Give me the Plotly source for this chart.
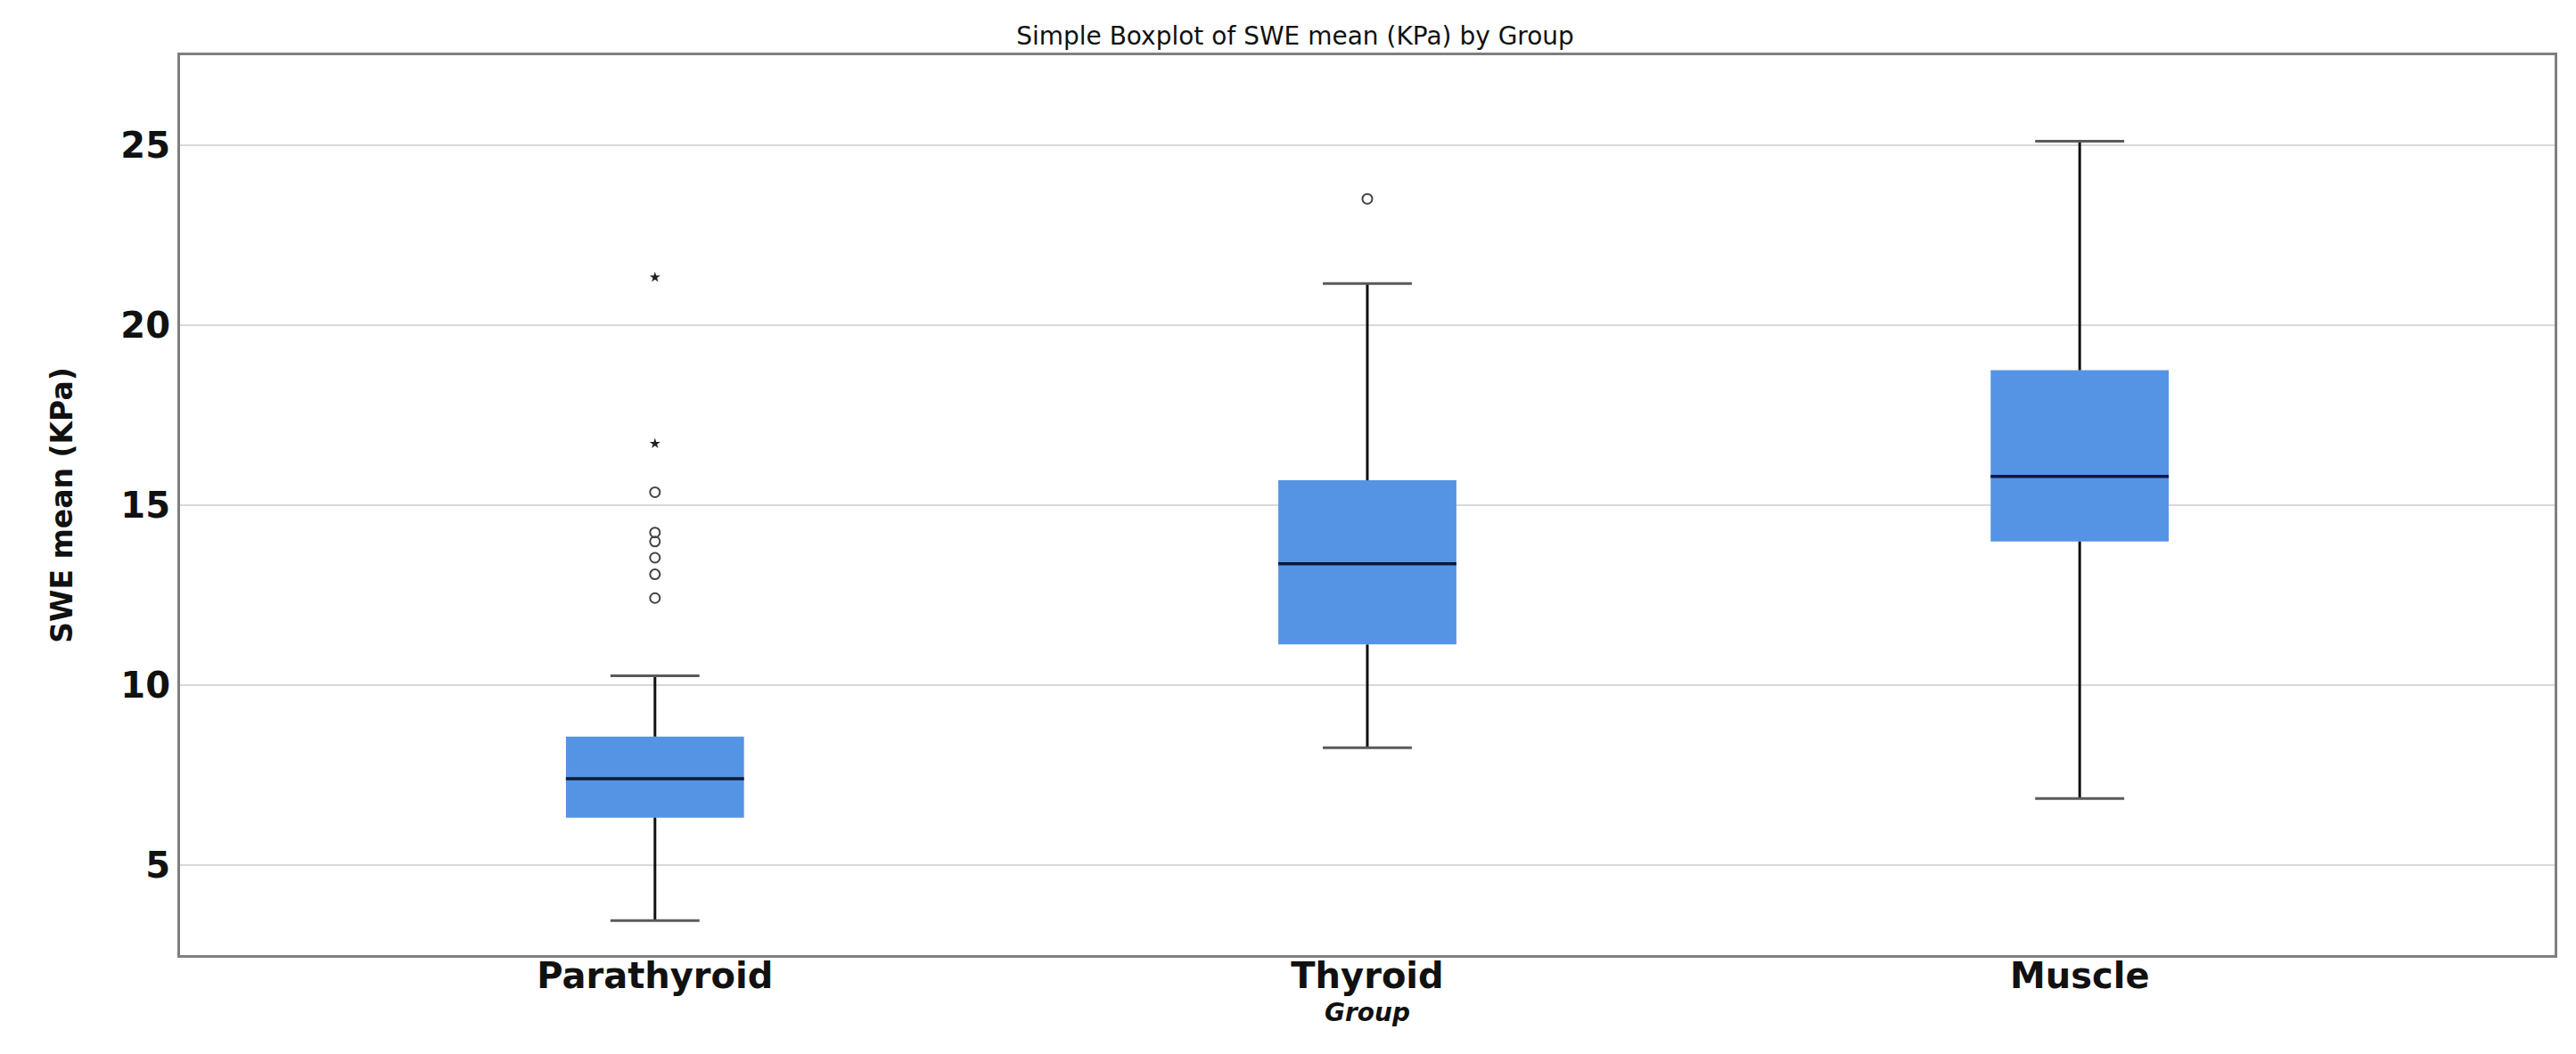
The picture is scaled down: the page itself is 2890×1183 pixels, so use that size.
import plotly.graph_objects as go

# ---------------- data ----------------
groups = ["Parathyroid", "Thyroid", "Muscle"]
positions = [0, 1, 2]
lower_whisker = [3.46, 8.26, 6.85]
q1_values = [6.32, 11.13, 13.99]
median_values = [7.40, 13.37, 15.80]
q3_values = [8.57, 15.69, 18.75]
upper_whisker = [10.26, 21.16, 25.11]

# outliers (circles) and extremes (stars) per group
outlier_group = [0, 0, 0, 0, 0, 0, 1]
outlier_values = [15.36, 14.24, 13.99, 13.54, 13.08, 12.42, 23.51]
extreme_group = [0, 0]
extreme_values = [21.33, 16.71]

y_ticks = [5, 10, 15, 20, 25]

# ---------------- styling ----------------
BOX_W = 0.25
CAP_W = 0.125
BOX_COLOR = "#5594e4"
FONT = "DejaVu Sans"

fig = go.Figure()

# box body (q1 -> q3)
fig.add_trace(go.Bar(
    x=positions,
    base=q1_values,
    y=[q3 - q1 for q1, q3 in zip(q1_values, q3_values)],
    width=BOX_W,
    marker=dict(color=BOX_COLOR, line=dict(width=0)),
    showlegend=False,
    hoverinfo="skip",
))

# whiskers
wx, wy = [], []
for p, lo, q1, q3, hi in zip(positions, lower_whisker, q1_values, q3_values, upper_whisker):
    wx += [p, p, None, p, p, None]
    wy += [q3, hi, None, q1, lo, None]
fig.add_trace(go.Scatter(x=wx, y=wy, mode="lines",
                         line=dict(color="#111111", width=3),
                         showlegend=False, hoverinfo="skip"))

# caps
cx, cy = [], []
for p, lo, hi in zip(positions, lower_whisker, upper_whisker):
    cx += [p - CAP_W / 2, p + CAP_W / 2, None, p - CAP_W / 2, p + CAP_W / 2, None]
    cy += [hi, hi, None, lo, lo, None]
fig.add_trace(go.Scatter(x=cx, y=cy, mode="lines",
                         line=dict(color="#5a5a5a", width=3),
                         showlegend=False, hoverinfo="skip"))

# medians
mx, my = [], []
for p, m in zip(positions, median_values):
    mx += [p - BOX_W / 2, p + BOX_W / 2, None]
    my += [m, m, None]
fig.add_trace(go.Scatter(x=mx, y=my, mode="lines",
                         line=dict(color="#0b1a33", width=3.5),
                         showlegend=False, hoverinfo="skip"))

# outliers
fig.add_trace(go.Scatter(
    x=[positions[g] for g in outlier_group], y=outlier_values, mode="markers",
    marker=dict(symbol="circle-open", size=11, color="#444444", line=dict(width=2)),
    showlegend=False))
fig.add_trace(go.Scatter(
    x=[positions[g] for g in extreme_group], y=extreme_values, mode="markers",
    marker=dict(symbol="star", size=9, color="#222222"),
    showlegend=False))

fig.update_layout(
    width=2890, height=1183,
    margin=dict(l=194, r=32, t=54, b=119),
    paper_bgcolor="white", plot_bgcolor="white",
    title=dict(text="Simple Boxplot of SWE mean (KPa) by Group",
               x=0.5, xref="container", y=1 - 32 / 1183, yref="container",
               xanchor="center", yanchor="middle",
               font=dict(family=FONT, size=28, color="#111111")),
    xaxis=dict(
        range=[-2 / 3, 8 / 3],
        tickvals=positions, ticktext=groups,
        showgrid=False, zeroline=False,
        showline=True, mirror=True, linecolor="#7f7f7f", linewidth=3,
        ticks="",
        ticklabelstandoff=-14,
        tickfont=dict(family=FONT, size=40, color="#111111", weight="bold"),
        title=dict(text="<b><i>Group</i></b>", standoff=10,
                   font=dict(family=FONT, size=28, color="#111111")),
    ),
    yaxis=dict(
        range=[2.5, 27.5],
        tickvals=y_ticks,
        showgrid=True, gridcolor="#d9d9d9", gridwidth=2,
        zeroline=False,
        showline=True, mirror=True, linecolor="#7f7f7f", linewidth=3,
        ticks="",
        tickfont=dict(family=FONT, size=40, color="#111111", weight="bold"),
        title=dict(text="<b>SWE mean (KPa)</b>", standoff=44,
                   font=dict(family=FONT, size=33, color="#111111")),
    ),
)

fig.write_html("out.html")
